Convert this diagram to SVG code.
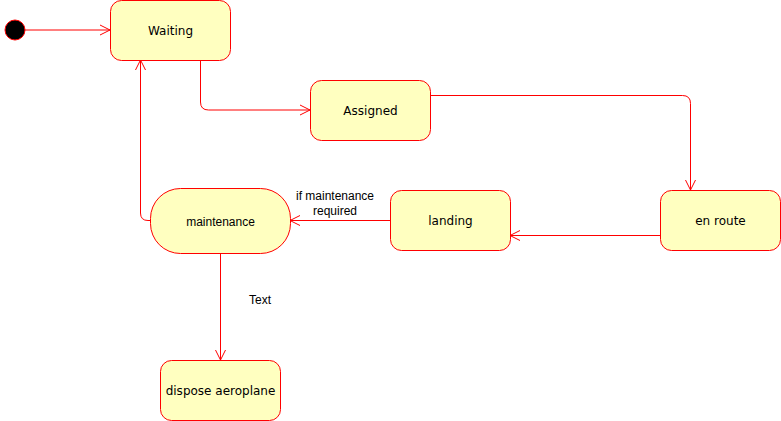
<svg xmlns="http://www.w3.org/2000/svg" width="781" height="421" viewBox="0 0 781 421">
<defs>
<marker id="arr" viewBox="0 0 12 12" refX="11" refY="6" markerWidth="12" markerHeight="12" markerUnits="userSpaceOnUse" orient="auto">
<path d="M1,1 L11,6 L1,11" fill="none" stroke="#ff0000" stroke-width="1"/>
</marker>
<style>
.st{fill:#ffffc0;stroke:#ff0000;stroke-width:1}
.lb{font-family:"DejaVu Sans",Verdana,sans-serif;font-size:12px;fill:#000;text-anchor:middle}
.sm{font-family:"Liberation Sans",Arial,sans-serif;font-size:12px;fill:#000;text-anchor:middle}
.cn{fill:none;stroke:#ff0000;stroke-width:1;marker-end:url(#arr)}
</style>
</defs>
<rect width="781" height="421" fill="#ffffff"/>
<g id="connectors">
<path class="cn" d="M25,30 L110,30"/>
<path class="cn" d="M200.5,60 L200.5,102 Q200.5,110 208.5,110 L310,110"/>
<path class="cn" d="M430,95.5 L682.5,95.5 Q690.5,95.5 690.5,103.5 L690.5,190"/>
<path class="cn" d="M660,235.5 L510,235.5"/>
<path class="cn" d="M390,220.5 L290,220.5"/>
<path class="cn" d="M150,220.5 L148,220.5 Q140.5,220.5 140.5,213 L140.5,60"/>
<path class="cn" d="M220.5,253 L220.5,360"/>
<text class="sm" x="335" y="200">if maintenance</text>
<text class="sm" x="335" y="215">required</text>
<text class="sm" x="260" y="304">Text</text>
</g>
<g id="initial">
<circle cx="15" cy="30" r="10" fill="#000000" stroke="#ff0000" stroke-width="1"/>
</g>
<g id="waiting">
<rect class="st" x="110.5" y="0.5" width="120" height="60" rx="11" ry="11"/>
<text class="lb" x="170.5" y="35">Waiting</text>
</g>
<g id="assigned">
<rect class="st" x="310.5" y="80.5" width="120" height="60" rx="11" ry="11"/>
<text class="lb" x="370.5" y="115">Assigned</text>
</g>
<g id="enroute">
<rect class="st" x="660.5" y="190.5" width="120" height="60" rx="11" ry="11"/>
<text class="lb" x="720.5" y="225">en route</text>
</g>
<g id="landing">
<rect class="st" x="390.5" y="190.5" width="120" height="60" rx="11" ry="11"/>
<text class="lb" x="450.5" y="225">landing</text>
</g>
<g id="maintenance">
<rect class="st" x="150.5" y="188.5" width="140" height="65" rx="30" ry="30"/>
<text class="sm" x="220.5" y="226">maintenance</text>
</g>
<g id="dispose">
<rect class="st" x="160.5" y="360.5" width="120" height="60" rx="11" ry="11"/>
<text class="lb" x="220.5" y="395">dispose aeroplane</text>
</g>
</svg>
